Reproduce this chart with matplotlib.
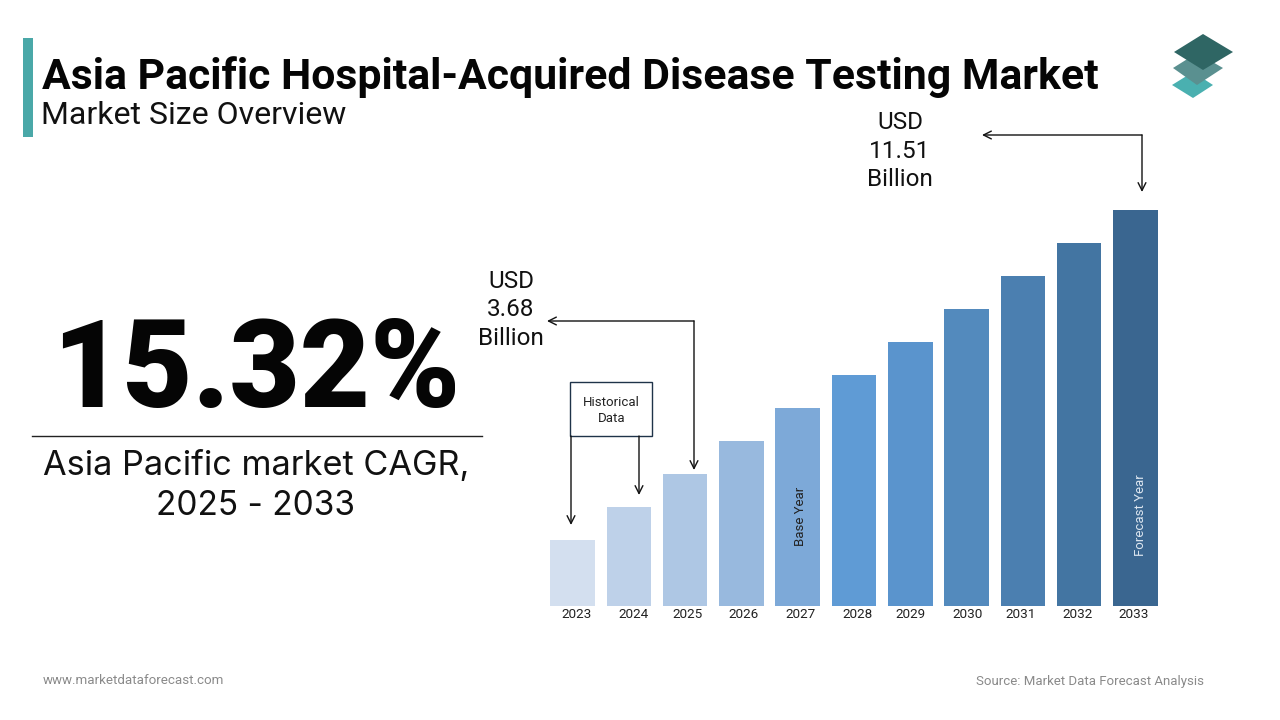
import matplotlib
matplotlib.use("Agg")
from matplotlib import pyplot as plt
from matplotlib.patches import Polygon, Rectangle

plt.rcParams["font.family"] = ["Roboto", "DejaVu Sans"]

years = [2023, 2024, 2025, 2026, 2027, 2028, 2029, 2030, 2031, 2032, 2033]
bar_heights = [2, 3, 4, 5, 6, 7, 8, 9, 10, 11, 12]
bar_colors = ["#D3DFEF", "#BED1E9", "#AEC7E4", "#98B9DE", "#7DA9D8", "#5F9BD5",
              "#5A94CD", "#538ABD", "#4B7FB0", "#4375A2", "#3A6690"]
year_labels = [str(y) for y in years]
label_nudge = [4, 5, 2, 2, 3, 4, 0, 1, -2, -2, -2]

fig = plt.figure(figsize=(12.8, 7.2), dpi=100)

## Bars, placed so one year = 56.3 px and one height step = 33 px
ax = fig.add_axes([550 / 1280, (720 - 606) / 720, 608 / 1280, 396 / 720])
ax.bar(years, bar_heights, width=0.79, color=bar_colors)
ax.set_xlim(2023 - 0.4, 2033 + 0.4)
ax.set_ylim(0, 12)
ax.axis("off")

## Overlay in pixel coordinates for everything around the bars
ov = fig.add_axes([0, 0, 1, 1], zorder=5)
ov.set_xlim(0, 1280)
ov.set_ylim(720, 0)
ov.axis("off")

for year, label, nudge in zip(years, year_labels, label_nudge):
    x = ax.transData.transform((year, 0))[0]
    ov.text(x + nudge, 614, label, ha="center", va="center", fontsize=9.7, color="#222222")

ov.add_patch(Rectangle((23, 38), 10, 99, color="#4AA8A8", lw=0))
ov.text(42, 77, "Asia Pacific Hospital-Acquired Disease Testing Market", fontsize=30.75,
        fontweight="bold", color="#050505", va="center", ha="left")
ov.text(41, 115, "Market Size Overview", fontsize=23, color="#111111", va="center", ha="left")

## Logo
ov.add_patch(Polygon([(1172, 85), (1193, 72), (1213, 85), (1193, 98)], color="#4AB0B0", lw=0))
ov.add_patch(Polygon([(1173, 68), (1197, 53), (1223, 68), (1197, 85)], color="#5A9090", lw=0))
ov.add_patch(Polygon([(1174, 52), (1203, 34), (1233, 52), (1203, 70)], color="#2F6664", lw=0))

## Left side
ov.text(256, 373, "15.32%", fontsize=87.5, fontweight="black", color="#050505",
        ha="center", va="center")
ov.plot([32, 482], [436, 436], color="#222222", lw=1)
ov.text(256, 466, "Asia Pacific market CAGR,", fontsize=24.7, color="#111111",
        ha="center", va="center", family=["Inter", "DejaVu Sans"])
ov.text(256, 506, "2025 - 2033", fontsize=24, color="#111111",
        ha="center", va="center", family=["Inter", "DejaVu Sans"])

## Value callouts
ov.text(511, 310, "USD\n3.68\nBillion", fontsize=17.5, color="#111111", ha="center", va="center",
        linespacing=1.28)
ov.text(900, 151, "USD\n11.51\nBillion", fontsize=17.5, color="#111111", ha="center", va="center",
        linespacing=1.28)

arrow = dict(arrowstyle="->", color="#111111", lw=1, shrinkA=0, shrinkB=0, mutation_scale=14)
ov.annotate("", xy=(547, 321), xytext=(694, 321), arrowprops=arrow)
ov.annotate("", xy=(694, 470), xytext=(694, 321), arrowprops=arrow)
ov.annotate("", xy=(982, 135), xytext=(1142, 135), arrowprops=arrow)
ov.annotate("", xy=(1142, 192), xytext=(1142, 135), arrowprops=arrow)

## Historical data box
ov.add_patch(Rectangle((570, 382), 82, 54, facecolor="white", edgecolor="#1F3349", lw=1))
ov.text(611.5, 410, "Historical\nData", fontsize=9.5, color="#222222", ha="center", va="center",
        linespacing=1.3)
ov.annotate("", xy=(571, 525), xytext=(571, 436), arrowprops=arrow)
ov.annotate("", xy=(639, 495), xytext=(639, 436), arrowprops=arrow)

## Labels inside bars
ov.text(801, 516, "Base Year", rotation=90, fontsize=9.5, color="#222222", ha="center", va="center")
ov.text(1140, 515, "Forecast Year", rotation=90, fontsize=9.5, color="#DDE6F0", ha="center", va="center")

## Footer
ov.text(43, 680, "www.marketdataforecast.com", fontsize=9.6, color="#8A8A8A", ha="left", va="center")
ov.text(1204, 681, "Source: Market Data Forecast Analysis", fontsize=9.55, color="#8A8A8A",
        ha="right", va="center")

fig.savefig("out.png", dpi=100)
